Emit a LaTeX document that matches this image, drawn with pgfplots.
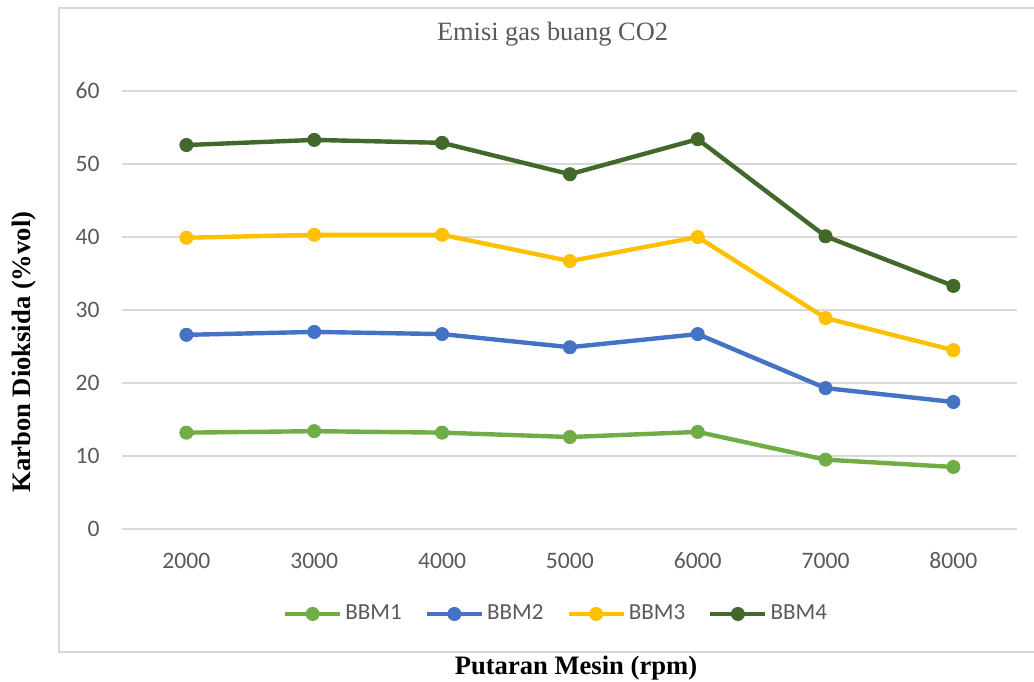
\documentclass[border=0pt]{standalone}
\usepackage{pgfplots}
\pgfplotsset{compat=1.18}
\usepackage{fontspec}
\setmainfont{Liberation Serif}
\newfontfamily\calibri{Carlito}

\definecolor{bbmone}{HTML}{70AD47}
\definecolor{bbmtwo}{HTML}{4472C4}
\definecolor{bbmthree}{HTML}{FFC000}
\definecolor{bbmfour}{HTML}{43682B}
\definecolor{txtgray}{HTML}{595959}
\definecolor{gridgray}{HTML}{D9D9D9}

\begin{document}
\begin{tikzpicture}
  \useasboundingbox (-61.25pt,-76pt) rectangle (455.75pt,264.5pt);
  % chart frame
  \draw[gridgray, line width=0.6pt] (-31.75pt,-61.5pt) rectangle (458.75pt,260.5pt);
  \begin{axis}[
    at={(0pt,0pt)}, anchor=south west,
    scale only axis,
    width=447.4pt, height=219pt,
    xmin=-0.5, xmax=6.5,
    ymin=0, ymax=60,
    xtick={0,...,6},
    xticklabels={2000,3000,4000,5000,6000,7000,8000},
    ytick={0,10,...,60},
    axis line style={draw=none},
    major tick length=0pt,
    ymajorgrids,
    grid style={gridgray, line width=0.75pt},
    tick label style={font=\calibri\fontsize{11.8}{14}\selectfont, text=txtgray, inner sep=0pt},
    /pgf/number format/assume math mode=true,
    yticklabel style={anchor=east, xshift=-11.25pt},
    xticklabel style={anchor=center, yshift=-15.85pt},
    title={Emisi gas buang CO2},
    title style={at={(axis description cs:0.4806,1.0874)}, anchor=base,
      font=\fontsize{13.2}{15}\selectfont, text=txtgray, inner sep=0pt},
    xlabel={Putaran Mesin (rpm)},
    xlabel style={at={(axis description cs:0.5068,-0.3333)}, anchor=base,
      font=\bfseries\fontsize{13.3}{15}\selectfont, inner sep=0pt},
    ylabel={Karbon Dioksida (\%vol)},
    ylabel style={at={(axis description cs:-0.1023,0.4041)}, anchor=base, rotate=0,
      font=\bfseries\fontsize{13.3}{15}\selectfont, inner sep=0pt},
    every axis plot/.append style={line width=2.2pt, mark=*, mark size=3.3pt,
      mark options={solid, line width=0.4pt}},
    legend columns=4,
    legend style={at={(axis description cs:0.485,-0.194)}, anchor=center,
      draw=none, fill=none, font=\calibri\fontsize{11.5}{14}\selectfont,
      text=txtgray, nodes={inner sep=1.5pt},
      /tikz/every even column/.append style={column sep=10pt}},
    legend image code/.code={
      \draw[mark repeat=2, mark phase=2, #1]
        plot coordinates {(0pt,0pt) (13.75pt,0pt) (27.5pt,0pt)};
    },
  ]
    \addplot[color=bbmone] coordinates {
      (0,13.2) (1,13.4) (2,13.2) (3,12.6) (4,13.3) (5,9.5) (6,8.5)
    };
    \addplot[color=bbmtwo] coordinates {
      (0,26.6) (1,27.0) (2,26.7) (3,24.9) (4,26.7) (5,19.3) (6,17.4)
    };
    \addplot[color=bbmthree] coordinates {
      (0,39.9) (1,40.3) (2,40.3) (3,36.7) (4,40.0) (5,28.9) (6,24.5)
    };
    \addplot[color=bbmfour] coordinates {
      (0,52.6) (1,53.3) (2,52.9) (3,48.6) (4,53.4) (5,40.1) (6,33.3)
    };
    \legend{BBM1, BBM2, BBM3, BBM4}
  \end{axis}
\end{tikzpicture}
\end{document}
